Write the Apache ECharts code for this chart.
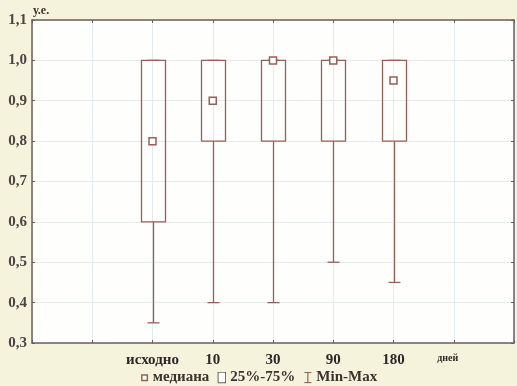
<!DOCTYPE html>
<html><head><meta charset="utf-8">
<script src="https://cdn.jsdelivr.net/npm/echarts@6/dist/echarts.min.js"></script>
<style>html,body{margin:0;padding:0;background:#f6f3dc;}#c{width:517px;height:386px;}</style>
</head><body><div id="c"></div>
<script>
// ---- data ----
const categories = ['', '', 'исходно', '10', '30', '90', '180', 'дней', ''];
const groups  = ['исходно', '10', '30', '90', '180'];
const mins    = [0.35, 0.40, 0.40, 0.50, 0.45];
const q1      = [0.60, 0.80, 0.80, 0.80, 0.80];
const medians = [0.80, 0.90, 1.00, 1.00, 0.95];
const q3      = [1.00, 1.00, 1.00, 1.00, 1.00];
const maxs    = [1.00, 1.00, 1.00, 1.00, 1.00];
const yMin = 0.3, yMax = 1.1, yStep = 0.1;
const yName = 'у.е.';
const legendNames = ['медиана', '25%-75%', 'Min-Max'];

// ---- style ----
const LINE = '#9a5e55';
const AXIS = '#6e5c5c';
const GRID = '#e4ecef';
const FONT = 'Liberation Serif';

function svgIcon(body) {
  return 'image://data:image/svg+xml;charset=utf-8,' + encodeURIComponent(
    '<svg xmlns="http://www.w3.org/2000/svg" width="9" height="12" viewBox="0 0 9 12">' + body + '</svg>');
}
const iconMedian = svgIcon('<rect x="2" y="3.5" width="5.5" height="5.5" fill="#fff" stroke="' + LINE + '" stroke-width="1.5"/>');
const iconBox = svgIcon('<rect x="0.6" y="0.6" width="7.8" height="10.8" fill="#fff" stroke="#5a4a4a" stroke-width="1.1"/>');
const iconWhisk = svgIcon('<path d="M1 0.8H8M4.5 0.8V11.2M1 11.2H8" fill="none" stroke="' + LINE + '" stroke-width="1.2"/>');

const boxData = groups.map((g, i) => [g, q1[i], q3[i]]);
const whiskData = groups.map((g, i) => [g, mins[i], q1[i], q3[i], maxs[i]]);
const medData = groups.map((g, i) => [g, medians[i]]);

const chart = echarts.init(document.getElementById('c'));
const axisLabelY = {
  fontFamily: FONT, fontWeight: 'bold', fontSize: 15, color: '#4d4343', margin: 5,
  formatter: v => v.toFixed(1).replace('.', ',')
};
chart.setOption({
  animation: false,
  backgroundColor: '#f6f3dc',
  grid: { left: 32, right: 2, top: 20, bottom: 43, show: true, backgroundColor: '#fefefd', borderWidth: 0 },
  legend: {
    bottom: 1, left: 'center', padding: 0, itemWidth: 9, itemHeight: 12, itemGap: 8,
    textStyle: { fontFamily: FONT, fontSize: 15, fontWeight: 'bold', color: '#3b3131', padding: [0, 0, 0, -1] },
    data: [
      { name: legendNames[0], icon: iconMedian },
      { name: legendNames[1], icon: iconBox },
      { name: legendNames[2], icon: iconWhisk }
    ]
  },
  xAxis: [{
    type: 'category', data: categories, boundaryGap: false, position: 'bottom',
    axisLine: { lineStyle: { color: AXIS, width: 1.5 } },
    axisTick: { inside: true, length: 3, interval: 0, lineStyle: { color: AXIS } },
    axisLabel: {
      interval: 0, margin: 10, fontFamily: FONT, fontWeight: 'bold', fontSize: 15, color: '#2f2727',
      formatter: v => v === 'дней' ? '{s|' + v + '}' : v,
      rich: { s: { fontFamily: FONT, fontWeight: 'bold', fontSize: 10, color: '#2f2727', padding: [0, 12, 0, 0] } }
    },
    splitLine: { show: true, interval: 0, lineStyle: { color: GRID, width: 1 } }
  }, {
    type: 'category', data: categories, boundaryGap: false, position: 'top',
    axisLine: { lineStyle: { color: AXIS, width: 1.5 } },
    axisTick: { inside: true, length: 3, interval: 0, lineStyle: { color: AXIS } },
    axisLabel: { show: false }, splitLine: { show: false }
  }],
  yAxis: [{
    type: 'value', min: yMin, max: yMax, interval: yStep, position: 'left',
    name: yName, nameLocation: 'end', nameGap: 3,
    nameTextStyle: { fontFamily: FONT, fontWeight: 'bold', fontSize: 12, color: '#3b3131', align: 'left', verticalAlign: 'bottom', padding: [0, 0, 0, 1] },
    axisLine: { show: true, lineStyle: { color: AXIS, width: 1.5 } },
    axisTick: { show: true, inside: true, length: 3, lineStyle: { color: AXIS } },
    axisLabel: axisLabelY,
    splitLine: { show: true, lineStyle: { color: GRID, width: 1 } }
  }, {
    type: 'value', min: yMin, max: yMax, interval: yStep, position: 'right',
    axisLine: { show: true, lineStyle: { color: AXIS, width: 1.5 } },
    axisTick: { show: true, inside: true, length: 3, lineStyle: { color: AXIS } },
    axisLabel: { show: false }, splitLine: { show: false }
  }],
  series: [{
    name: legendNames[2], type: 'custom', xAxisIndex: 0, yAxisIndex: 0, z: 2,
    itemStyle: { color: LINE },
    data: whiskData,
    renderItem: (params, api) => {
      const x = api.value(0);
      const pMin = api.coord([x, api.value(1)]);
      const pQ1 = api.coord([x, api.value(2)]);
      const pQ3 = api.coord([x, api.value(3)]);
      const pMax = api.coord([x, api.value(4)]);
      const cx = Math.round(pMin[0]) + 0.5, hw = 6;
      const st = { stroke: LINE, lineWidth: 1.3, fill: null };
      return { type: 'group', children: [
        { type: 'line', shape: { x1: cx, y1: pMin[1], x2: cx, y2: pQ1[1] }, style: st },
        { type: 'line', shape: { x1: cx - hw, y1: pMin[1], x2: cx + hw, y2: pMin[1] }, style: st },
        { type: 'line', shape: { x1: cx, y1: pQ3[1], x2: cx, y2: pMax[1] }, style: st },
        { type: 'line', shape: { x1: cx - hw, y1: pMax[1], x2: cx + hw, y2: pMax[1] }, style: st }
      ]};
    }
  }, {
    name: legendNames[1], type: 'custom', xAxisIndex: 0, yAxisIndex: 0, z: 3,
    itemStyle: { color: LINE },
    data: boxData,
    renderItem: (params, api) => {
      const x = api.value(0);
      const pLo = api.coord([x, api.value(1)]);
      const pHi = api.coord([x, api.value(2)]);
      const cx = Math.round(pLo[0]) + 0.5, hw = 12;
      return { type: 'rect',
        shape: { x: cx - hw, y: pHi[1], width: hw * 2, height: pLo[1] - pHi[1] },
        style: { stroke: LINE, lineWidth: 1.3, fill: null } };
    }
  }, {
    name: legendNames[0], type: 'scatter', xAxisIndex: 0, yAxisIndex: 0, z: 4,
    symbol: 'rect', symbolSize: 7,
    itemStyle: { color: '#fff', borderColor: LINE, borderWidth: 1.5, opacity: 1 },
    data: medData
  }]
});
</script></body></html>
